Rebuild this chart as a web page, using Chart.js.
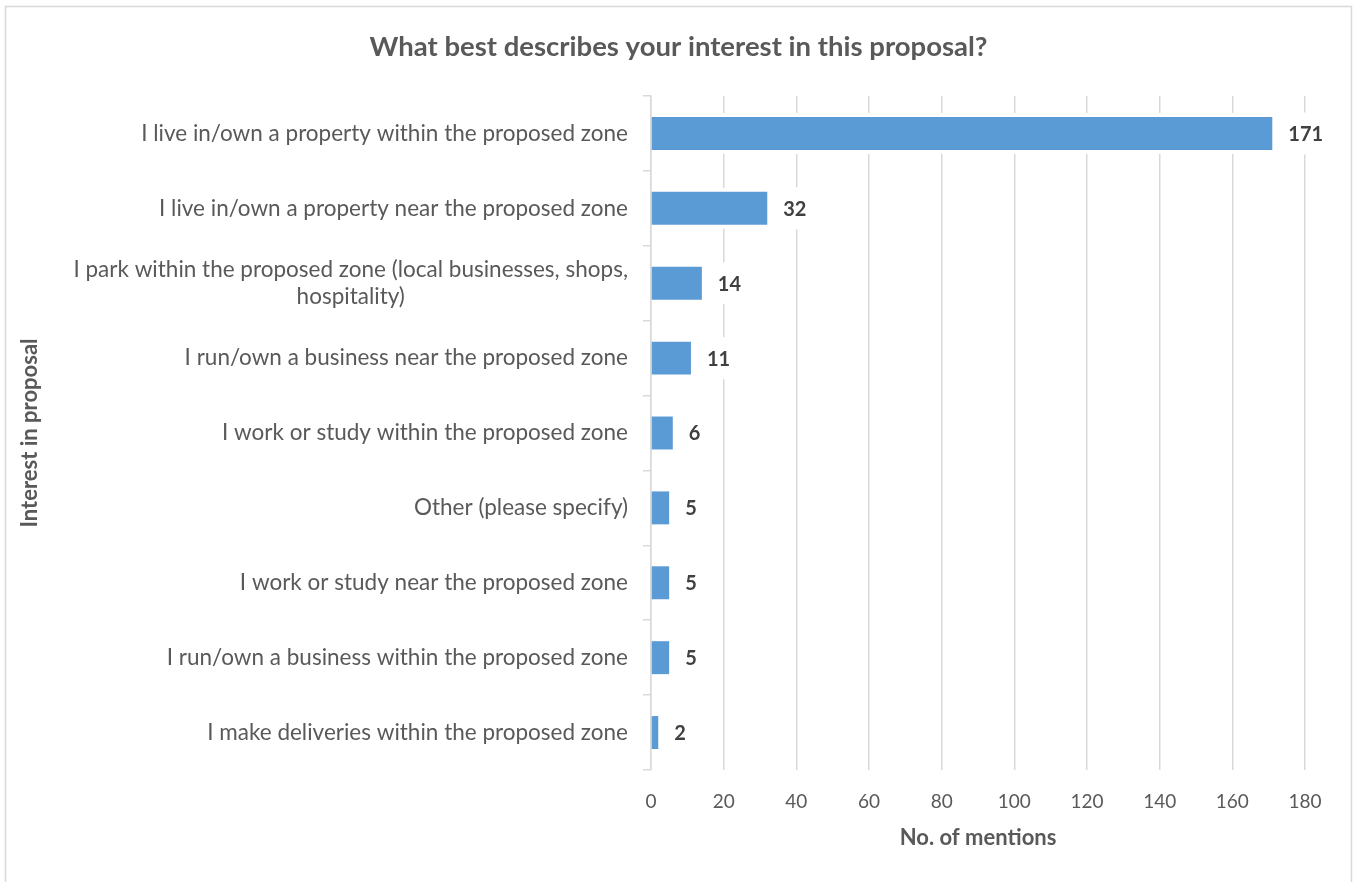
<!DOCTYPE html>
<html>
<head>
<meta charset="utf-8">
<style>
  html, body { margin: 0; padding: 0; background: #fff; }
  #wrap { position: relative; width: 1357px; height: 882px; }
</style>
<script src="https://cdn.jsdelivr.net/npm/chart.js@4/dist/chart.umd.min.js"></script>
</head>
<body>
<div id="wrap"><canvas id="chart" width="1357" height="882"></canvas></div>
<script>
// Survey responses: interest in the proposal
const categories = [
  "I live in/own a property within the proposed zone",
  "I live in/own a property near the proposed zone",
  ["I park within the proposed zone (local businesses, shops,", "hospitality)"],
  "I run/own a business near the proposed zone",
  "I work or study within the proposed zone",
  "Other (please specify)",
  "I work or study near the proposed zone",
  "I run/own a business within the proposed zone",
  "I make deliveries within the proposed zone"
];
const mentions = [171, 32, 14, 11, 6, 5, 5, 5, 2];
const xTicks = [0, 20, 40, 60, 80, 100, 120, 140, 160, 180];

const chartTitle = "What best describes your interest in this proposal?";
const xTitle = "No. of mentions";
const yTitle = "Interest in proposal";

const FONT = "Lato, 'Open Sans', sans-serif";
const TEXT = "#595959";
const GRID = "#d9d9d9";

// Frame, category labels, axis titles, bar halos and value labels
const decor = {
  id: "decor",
  beforeDraw(chart) {
    const ctx = chart.ctx;
    ctx.save();
    ctx.strokeStyle = GRID;
    ctx.lineWidth = 1.5;
    ctx.strokeRect(5.5, 6.5, 1346, 882);
    ctx.restore();
  },
  beforeDatasetsDraw(chart) {
    const ctx = chart.ctx;
    const meta = chart.getDatasetMeta(0);
    ctx.save();
    ctx.fillStyle = "#ffffff";
    meta.data.forEach(bar => {
      const p = bar.getProps(["x", "y", "base", "height"], true);
      ctx.fillRect(p.base + 1.5, p.y - p.height / 2 - 4, p.x - p.base + 2.5, p.height + 8);
    });
    ctx.restore();
  },
  afterDatasetsDraw(chart) {
    const ctx = chart.ctx;
    const meta = chart.getDatasetMeta(0);
    const yScale = chart.scales.y;
    const area = chart.chartArea;
    ctx.save();
    // value labels with white backing
    ctx.font = "bold 20px " + FONT;
    ctx.textBaseline = "middle";
    ctx.textAlign = "left";
    meta.data.forEach((bar, i) => {
      const txt = String(mentions[i]);
      const w = ctx.measureText(txt).width;
      const x = bar.x + 16;
      ctx.fillStyle = "#ffffff";
      ctx.fillRect(x - 8, bar.y - 21, w + 16, 42);
      ctx.fillStyle = "#404040";
      ctx.fillText(txt, x, bar.y + 1);
    });
    // category labels, right-aligned block, lines centred inside it
    ctx.font = "22.5px " + FONT;
    ctx.fillStyle = TEXT;
    ctx.textAlign = "center";
    const right = area.left - 23;
    const lh = 27;
    categories.forEach((lab, i) => {
      const lines = Array.isArray(lab) ? lab : [lab];
      const wMax = Math.max(...lines.map(l => ctx.measureText(l).width));
      const cx = right - wMax / 2;
      const yc = yScale.getPixelForTick(i);
      lines.forEach((l, j) => {
        ctx.fillText(l, cx, yc + (j - (lines.length - 1) / 2) * lh);
      });
    });
    // axis titles
    ctx.font = "bold 22px " + FONT;
    ctx.fillStyle = TEXT;
    ctx.textAlign = "center";
    ctx.fillText(xTitle, (area.left + area.right) / 2, 838);
    ctx.translate(30, (area.top + area.bottom) / 2);
    ctx.rotate(-Math.PI / 2);
    ctx.fillText(yTitle, 0, 0);
    ctx.restore();
  }
};

new Chart(document.getElementById("chart"), {
  type: "bar",
  data: {
    labels: categories,
    datasets: [{
      data: mentions,
      backgroundColor: "#5b9bd5",
      borderWidth: 0,
      barPercentage: 0.44,
      categoryPercentage: 1.0
    }]
  },
  options: {
    indexAxis: "y",
    responsive: false,
    animation: false,
    devicePixelRatio: 1,
    layout: { padding: { left: 52, right: 52, top: 6, bottom: 6 } },
    plugins: {
      legend: { display: false },
      tooltip: { enabled: false },
      title: {
        display: true,
        text: chartTitle,
        color: TEXT,
        font: { family: FONT, size: 27.5, weight: "bold" },
        padding: { top: 25, bottom: 32 }
      }
    },
    scales: {
      x: {
        type: "linear",
        min: 0,
        max: 180,
        afterBuildTicks(scale) {
          scale.ticks = xTicks.map(v => ({ value: v }));
        },
        afterFit(scale) { scale.height = 106; },
        grid: { color: GRID, lineWidth: 1.5, drawTicks: false },
        border: { display: false },
        ticks: {
          color: TEXT,
          padding: 20,
          font: { family: FONT, size: 19 }
        }
      },
      y: {
        type: "category",
        afterFit(scale) { scale.width = 599; },
        offset: true,
        grid: {
          offset: true,
          drawOnChartArea: false,
          drawTicks: true,
          tickLength: 8,
          color: GRID,
          lineWidth: 1.5
        },
        border: { display: true, color: GRID, width: 1.5 },
        ticks: { display: false }
      }
    }
  },
  plugins: [decor]
});
</script>
</body>
</html>
